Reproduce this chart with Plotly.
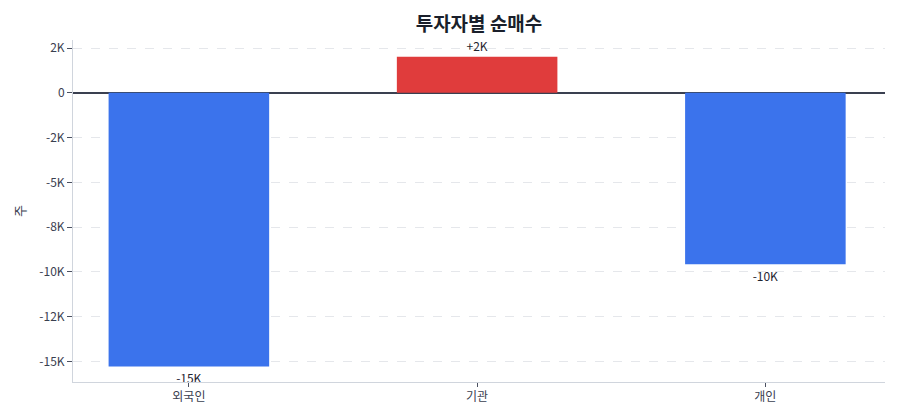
import plotly.graph_objects as go

investors = ['외국인', '기관', '개인']
net_buy = [-15280, 2010, -9580]
tick_vals = [2500, 0, -2500, -5000, -7500, -10000, -12500, -15000]

font = 'Noto Sans CJK KR, Noto Sans, sans-serif'


def fmt_k(v, sign=False):
    if v == 0:
        return '0'
    s = f'{v / 1000:+.0f}K' if sign else f'{v / 1000:.0f}K'
    return s


colors = ['#e03c3c' if v > 0 else '#3b73ec' for v in net_buy]
labels = [fmt_k(v, sign=v > 0) for v in net_buy]

fig = go.Figure(go.Bar(x=investors, y=net_buy,
                       marker=dict(color=colors, line=dict(width=0)),
                       width=0.557,
                       text=labels,
                       textposition='outside',
                       cliponaxis=False,
                       textfont=dict(size=12, color='#1f2430', family=font)))

# page body has an 8px margin, so margins are shifted to line up with the window
fig.update_layout(width=900, height=420,
                  margin=dict(l=62, r=23, t=32, b=46),
                  paper_bgcolor='white', plot_bgcolor='white',
                  font=dict(family=font, size=12, color='#4a5060'),
                  title=dict(text='<b>투자자별 순매수</b>', xref='paper', x=0.5, xanchor='center',
                             y=0.961, yanchor='middle',
                             font=dict(size=19, color='#1a1f2b', family=font)),
                  showlegend=False)

fig.update_xaxes(range=[-0.402, 2.415], showline=True, linecolor='#d0d5dd', linewidth=1,
                 ticks='outside', ticklen=4, tickcolor='#4a5060', showgrid=False,
                 tickfont=dict(size=12, color='#3a4050'))
fig.update_yaxes(range=[-16150, 2950], tickvals=tick_vals,
                 ticktext=[fmt_k(v) for v in tick_vals],
                 showline=True, linecolor='#d0d5dd', linewidth=1,
                 ticks='outside', ticklen=5, tickcolor='#4a5060',
                 showgrid=True, gridcolor='#e5e7eb', griddash='dash', gridwidth=1,
                 zeroline=True, zerolinecolor='#3a4050', zerolinewidth=1.5,
                 title=dict(text='주', standoff=10, font=dict(size=13, color='#3a4050')),
                 tickfont=dict(size=12, color='#3a4050'))

fig.write_html('out.html')
